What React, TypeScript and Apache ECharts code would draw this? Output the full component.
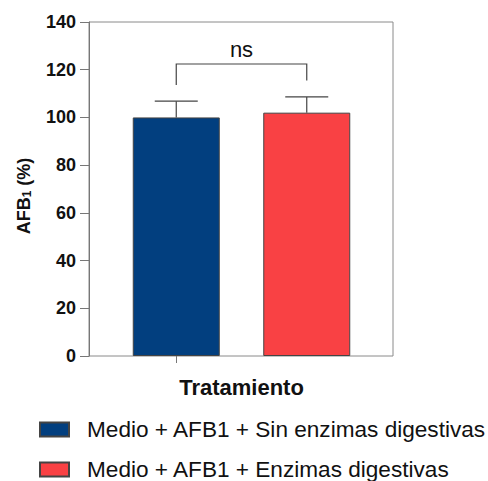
import React, { useEffect, useRef } from "react";
import * as echarts from "echarts";

const categories = ["Medio + AFB1 + Sin enzimas digestivas", "Medio + AFB1 + Enzimas digestivas"];
const meanValues = [100, 102];
const errorTops = [106.8, 108.6];
const seriesColors = ["#023F7F", "#F94144"];
const bracketTop = 122.4;
const bracketLegs = [113.6, 115.5];
const bracketLabel = "ns";
const yMin = 0;
const yMax = 140;
const yInterval = 20;

export default function App() {
  const ref = useRef<HTMLDivElement>(null);
  useEffect(() => {
    document.body.style.margin = "0";
    const chart = echarts.init(ref.current!, undefined, { renderer: "svg" });
    const font = "Liberation Sans, Arial, sans-serif";
    const barSeries = categories.map((name, i) => ({
      name,
      type: "bar",
      xAxisIndex: 1,
      yAxisIndex: 1,
      barWidth: 87,
      barGap: "-100%",
      data: categories.map((_, j) => (j === i ? meanValues[i] : "-")),
      itemStyle: { color: seriesColors[i], borderColor: "#444", borderWidth: 1 },
      z: 2,
    }));
    const legendTops = [418, 458];
    chart.setOption({
      animation: false,
      textStyle: { fontFamily: font },
      grid: [
        { left: 89, top: 22, right: 95, bottom: 125, show: true, borderColor: "#8a8a8a", borderWidth: 1, backgroundColor: "transparent" },
        { left: 111, top: 22, right: 116, bottom: 125 },
      ],
      xAxis: [
        { type: "value", gridIndex: 0, min: 0, max: 1, show: false },
        {
          type: "category",
          gridIndex: 1,
          data: categories,
          axisLine: { show: false },
          axisTick: { show: true, alignWithLabel: true, length: 7, lineStyle: { color: "#777" } },
          axisLabel: { show: false },
          name: "Tratamiento",
          nameLocation: "middle",
          nameGap: 20,
          nameTextStyle: { fontSize: 22, fontWeight: "bold", color: "#111", fontFamily: font },
        },
      ],
      yAxis: [
        {
          type: "value",
          gridIndex: 0,
          min: yMin,
          max: yMax,
          interval: yInterval,
          axisLine: { show: true, lineStyle: { color: "#777", width: 1 } },
          axisTick: { show: true, inside: false, length: 9, lineStyle: { color: "#777" } },
          axisLabel: { fontSize: 18, fontWeight: "bold", color: "#111", margin: 13, fontFamily: font },
          splitLine: { show: false },
        },
        { type: "value", gridIndex: 1, min: yMin, max: yMax, interval: yInterval, show: false },
      ],
      legend: categories.map((name, i) => ({
        orient: "vertical",
        left: 39,
        top: legendTops[i],
        padding: 0,
        itemWidth: 29,
        itemHeight: 14,
        itemGap: 0,
        icon: "rect",
        data: [name],
        textStyle: { fontSize: 22.6, color: "#111", fontFamily: font, padding: [0, 0, 0, 13] },
      })),
      series: [
        ...barSeries,
        {
          type: "custom",
          xAxisIndex: 1,
          yAxisIndex: 1,
          z: 3,
          data: meanValues.map((v, i) => [i, v, errorTops[i]]),
          renderItem: (params: any, api: any) => {
            const x = api.value(0);
            const base = api.coord([x, api.value(1)]);
            const top = api.coord([x, api.value(2)]);
            const half = 21.5;
            return {
              type: "group",
              children: [
                { type: "line", shape: { x1: base[0], y1: base[1], x2: top[0], y2: top[1] }, style: { stroke: "#444", lineWidth: 1.2 } },
                { type: "line", shape: { x1: top[0] - half, y1: top[1], x2: top[0] + half, y2: top[1] }, style: { stroke: "#444", lineWidth: 1.2 } },
              ],
            };
          },
        },
        {
          type: "custom",
          xAxisIndex: 1,
          yAxisIndex: 1,
          z: 3,
          data: [[0, 1, bracketTop, bracketLegs[0], bracketLegs[1]]],
          renderItem: (params: any, api: any) => {
            const a = api.coord([api.value(0), api.value(3)]);
            const b = api.coord([api.value(0), api.value(2)]);
            const c = api.coord([api.value(1), api.value(2)]);
            const d = api.coord([api.value(1), api.value(4)]);
            return {
              type: "group",
              children: [
                { type: "polyline", shape: { points: [a, b, c, d] }, style: { stroke: "#444", lineWidth: 1.2, fill: "none" } },
                {
                  type: "text",
                  x: (b[0] + c[0]) / 2,
                  y: b[1] - 3,
                  style: { text: bracketLabel, fontSize: 22, fill: "#111", fontFamily: font, align: "center", verticalAlign: "bottom" },
                },
              ],
            };
          },
        },
      ],
      graphic: [
        {
          type: "text",
          x: 24,
          y: 196,
          rotation: Math.PI / 2,
          style: {
            text: "{a|AFB}{s|1}{a| (%)}",
            align: "center",
            verticalAlign: "middle",
            fill: "#111",
            rich: {
              a: { fontSize: 18, fontWeight: "bold", fontFamily: font, fill: "#111" },
              s: { fontSize: 12, fontWeight: "bold", fontFamily: font, fill: "#111", verticalAlign: "bottom", padding: [6, 0, 0, 0] },
            },
          },
        },
      ],
    });
    return () => chart.dispose();
  }, []);
  return <div ref={ref} style={{ width: 488, height: 481 }} />;
}
